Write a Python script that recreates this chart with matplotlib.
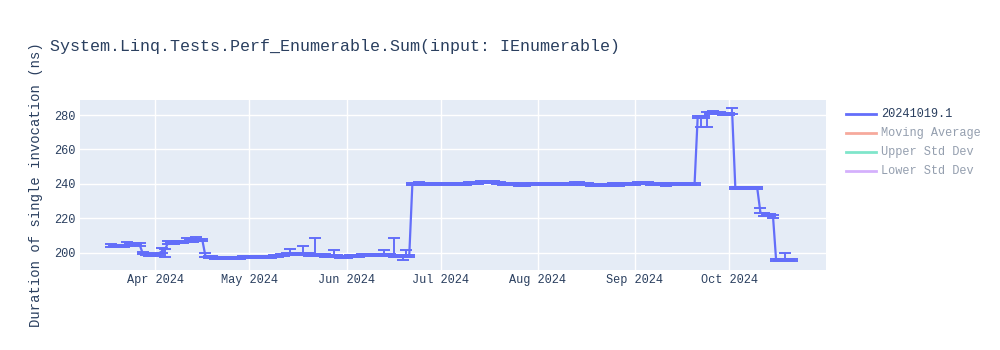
import matplotlib
matplotlib.use('Agg')
import matplotlib.pyplot as plt
import matplotlib.dates as mdates
from matplotlib.lines import Line2D
import numpy as np
import pandas as pd

title = 'System.Linq.Tests.Perf_Enumerable.Sum(input: IEnumerable)'
y_label = 'Duration of single invocation (ns)'
legend_names = ['20241019.1', 'Moving Average', 'Upper Std Dev', 'Lower Std Dev']
legend_colors = ['#636efa', '#EF553B', '#00cc96', '#ab63fa']

first_day = '2024-03-18'
last_day = '2024-10-21'

mar = [204.3, 204.2, 204.0, 203.9, 204.2, 204.6, 204.9, 205.1, 205.0, 204.8,
       199.8, 199.2, 198.6, 199.0]
apr = [198.8, 199.6, 200.8, 201.5, 205.6, 205.9, 206.0, 206.3, 206.5, 206.6,
       206.8, 207.0, 207.2, 207.4, 207.5, 207.6,
       198.2, 197.8, 197.5, 197.3, 197.2, 197.1, 197.0, 197.0, 197.1, 197.0,
       197.2, 197.3, 197.4, 197.5]
may = [197.5, 197.6, 197.7, 197.8, 197.8, 197.9, 197.8, 197.9, 198.0, 198.2,
       198.6, 199.0, 199.2, 199.3, 199.4, 199.2, 199.5, 199.6, 199.3, 199.1,
       199.0, 198.9, 198.8, 198.6, 198.5, 198.3, 198.2, 198.1, 198.0, 197.9, 197.9]
jun = [197.9, 198.0, 198.1, 198.2, 198.4, 198.6, 198.7, 198.8, 198.9, 198.9,
       198.8, 198.7, 198.9, 199.0, 198.7, 198.5, 198.4, 198.3, 198.4, 198.3, 198.2,
       240.0, 240.2, 240.3, 240.2, 240.1, 240.0, 239.9, 240.0, 240.0]
jul = [240.0, 240.1, 240.2, 240.2, 240.1, 240.0, 240.0, 240.1, 240.2, 240.3,
       240.3, 240.4, 240.6, 241.0, 241.2, 241.3, 241.2, 241.0, 240.7,
       240.4, 240.2, 240.1, 240.0, 240.0, 239.8, 239.6, 239.5, 239.6, 239.8, 239.9, 240.0]
aug = [240.0, 239.9, 240.0, 240.1, 240.0, 239.9, 240.0, 240.1, 240.0, 240.0,
       240.1, 240.2, 240.3, 240.3, 240.2, 240.0, 239.8, 239.6, 239.5, 239.4,
       239.3, 239.3, 239.4, 239.6, 239.7, 239.8, 239.7, 239.8, 239.9, 240.0, 240.1]
sep = [240.2, 240.3, 240.4, 240.4, 240.3, 240.2, 240.1, 240.0, 239.9, 239.8,
       239.7, 239.8, 239.9, 240.0, 239.9, 239.8, 239.9, 240.0, 240.0, 240.0,
       279.0, 278.6, 278.8, 280.9, 281.3, 281.5, 281.3, 281.0, 280.8, 280.5]
oct = [280.6, 280.9,
       237.8, 237.7, 237.7, 237.6, 237.6, 237.5, 237.5, 237.4,
       223.5, 222.3, 222.0, 221.8, 221.6,
       196.0, 195.7, 195.8, 196.0, 196.1, 196.0]

# usual spread of one run, and the runs whose bars stick out (down, up)
small_err = 0.6
big_err = {
    '2024-03-23': (0.5, 1.6),
    '2024-03-27': (0.5, 0.8),
    '2024-04-03': (0.6, 2.1),
    '2024-04-04': (3.8, 0.6),
    '2024-04-05': (0.6, 1.5),
    '2024-04-11': (0.6, 1.7),
    '2024-04-14': (0.6, 1.6),
    '2024-04-17': (0.6, 1.6),
    '2024-04-20': (1.0, 0.6),
    '2024-05-14': (0.6, 2.7),
    '2024-05-18': (0.6, 4.4),
    '2024-05-22': (0.6, 9.8),
    '2024-05-28': (0.6, 3.6),
    '2024-06-13': (0.6, 3.0),
    '2024-06-16': (0.6, 10.4),
    '2024-06-19': (2.4, 0.6),
    '2024-06-20': (0.6, 3.4),
    '2024-09-22': (5.6, 0.6),
    '2024-09-24': (7.9, 0.6),
    '2024-10-02': (0.6, 3.1),
    '2024-10-11': (0.6, 2.5),
    '2024-10-15': (1.3, 0.6),
    '2024-10-19': (0.6, 4.2),
}

dates = pd.date_range(first_day, last_day, freq='D')
values = np.array(mar + apr + may + jun + jul + aug + sep + oct)
err_lo = np.full(len(values), small_err)
err_hi = np.full(len(values), small_err)
for d, (lo, hi) in big_err.items():
    i = dates.get_loc(pd.Timestamp(d))
    err_lo[i] = lo
    err_hi[i] = hi

font = 'Liberation Mono'
text_col = '#2a3f5f'

fig = plt.figure(figsize=(10, 3.5), dpi=100)
ax = fig.add_axes([0.08, 1 - 270 / 350, 0.746, 170 / 350])
ax.set_facecolor('#E5ECF6')

ax.errorbar(dates, values, yerr=[err_lo, err_hi], color=legend_colors[0], lw=1.6,
            elinewidth=1.4, capsize=4.5, capthick=1.4, zorder=3)

ax.set_xlim(pd.Timestamp('2024-03-08'), pd.Timestamp('2024-10-31 22:00'))
ax.set_ylim(190.1, 288.7)
ax.set_yticks([200, 220, 240, 260, 280])
ax.xaxis.set_major_locator(mdates.MonthLocator(bymonth=[4, 5, 6, 7, 8, 9, 10]))
ax.xaxis.set_major_formatter(mdates.DateFormatter('%b %Y'))
ax.grid(color='white', lw=1)
ax.set_axisbelow(True)
for s in ax.spines.values():
    s.set_visible(False)
ax.tick_params(length=0, pad=3, labelsize=8.6, labelcolor=text_col)
for lab in ax.get_xticklabels() + ax.get_yticklabels():
    lab.set_fontfamily(font)

ax.set_ylabel(y_label, fontsize=10, family=font, color=text_col, labelpad=8)
fig.text(0.05, 1 - 46 / 350, title, fontsize=12, family=font, color=text_col,
         va='center', ha='left')

# legend, only the first trace is switched on
for k, name in enumerate(legend_names):
    y = 1 - (114 + 19 * k) / 350
    a = 1.0 if k == 0 else 0.5
    fig.add_artist(Line2D([0.846, 0.876], [y, y], transform=fig.transFigure,
                          color=legend_colors[k], lw=2, alpha=a))
    fig.text(0.881, y, name, fontsize=8.6, family=font, color=text_col,
             alpha=a, va='center', ha='left')

fig.savefig('out.png', dpi=100)
